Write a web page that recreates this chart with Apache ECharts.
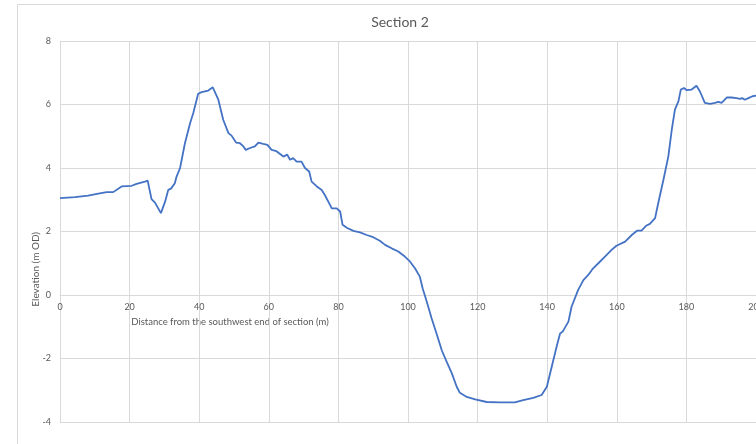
<!DOCTYPE html>
<html>
<head>
<meta charset="utf-8">
<title>Section 2</title>
<script src="https://cdn.jsdelivr.net/npm/echarts@6/dist/echarts.min.js"></script>
<style>
  html, body { margin: 0; padding: 0; overflow: hidden; background: #ffffff; }
  #chart { width: 800px; height: 460px; }
</style>
</head>
<body>
<div id="chart"></div>
<script>
// Ground profile along section 2: distance (m) and elevation (m OD)
const distance = [
  0, 4.3, 8.1, 11, 13.4, 15.3, 17.7, 20.6, 22, 24.4, 25.2, 26.3, 27.3, 29, 29.4,
  30.2, 31.1, 31.9, 33, 33.5, 34.5, 35.9, 37.4, 38.3, 39.7, 40.7, 42.6, 43.9,
  45.5, 46.9, 48.4, 49.3, 50.6, 51.7, 52.7, 53.4, 54.6, 55, 56, 57, 58.4, 59.6,
  60.8, 62.2, 64.2, 65.3, 66.1, 67, 68, 69.4, 70.4, 71.6, 72.3, 73.8, 75.2, 76.1,
  77.1, 78.1, 79.5, 80.5, 81.2, 82.4, 84.3, 86.2, 88.1, 90, 91.9, 93.4, 95.3,
  97.2, 99.1, 100.6, 102, 103.4, 104.2, 105.4, 106.8, 108.2, 109.7, 111.1, 112.6,
  114, 114.9, 116.9, 119.3, 122.6, 126.4, 130.7, 133.1, 136, 138.4, 139.9, 141.3,
  142.7, 143.7, 144.4, 146.1, 147, 148.9, 150.4, 151.8, 153.2, 154.7, 156.6,
  158.5, 159.9, 162.4, 164.3, 165.9, 167.1, 168.4, 169.5, 171, 171.9, 173.4,
  174.8, 175.8, 176.7, 177.7, 178.4, 179.3, 180.1, 181.5, 182.9, 183.9, 185.3,
  186.8, 188.2, 189.2, 190.1, 191.6, 193, 194.4, 195.4, 196, 196.8, 197.8, 199, 200
];
const elevation = [
  3.05, 3.08, 3.13, 3.19, 3.24, 3.24, 3.42, 3.44, 3.5, 3.57, 3.6, 3.02, 2.91, 2.58, 2.58,
  2.94, 3.31, 3.35, 3.52, 3.73, 4.0, 4.78, 5.42, 5.73, 6.34, 6.39, 6.44, 6.54,
  6.15, 5.52, 5.1, 5.02, 4.8, 4.78, 4.68, 4.57, 4.63, 4.6, 4.68, 4.8, 4.76, 4.73,
  4.57, 4.53, 4.36, 4.42, 4.26, 4.31, 4.2, 4.2, 4.0, 3.89, 3.57, 3.42, 3.31, 3.15,
  2.94, 2.73, 2.73, 2.63, 2.21, 2.12, 2.02, 1.97, 1.89, 1.82, 1.71, 1.58, 1.47,
  1.37, 1.21, 1.05, 0.84, 0.58, 0.21, -0.21, -0.74, -1.21, -1.74, -2.1, -2.47,
  -2.89, -3.08, -3.21, -3.29, -3.37, -3.38, -3.38, -3.31, -3.24, -3.15, -2.89, -2.26,
  -1.63, -1.21, -1.16, -0.84, -0.37, 0.16, 0.47, 0.63, 0.84, 1.0, 1.21,
  1.42, 1.55, 1.68, 1.89, 2.03, 2.03, 2.18, 2.24, 2.42, 2.89, 3.63,
  4.36, 5.21, 5.84, 6.1, 6.47, 6.52, 6.45, 6.47, 6.59, 6.41, 6.05,
  6.02, 6.05, 6.08, 6.05, 6.22, 6.22, 6.2, 6.18, 6.2, 6.15, 6.2, 6.26, 6.28
];

const titleText = 'Section 2';
const yAxisTitle = 'Elevation (m OD)';
const xAxisTitle = 'Distance from the southwest end of section (m)';

const points = distance.map((d, i) => [d, elevation[i]]);

const textColor = '#595959';
const gridColor = '#d9d9d9';
const font = 'Lato, "Open Sans", sans-serif';

// Plot box in pixels; the distance axis is lifted to the zero-elevation line
const gridTop = 41, gridBottom = 38, chartHeight = 460;
const yMin = -4, yMax = 8;
const plotHeight = chartHeight - gridTop - gridBottom;
const zeroOffset = -plotHeight * (0 - yMin) / (yMax - yMin);

const chart = echarts.init(document.getElementById('chart'), null, { renderer: 'canvas' });

chart.setOption({
  animation: false,
  backgroundColor: '#ffffff',
  title: {
    text: titleText,
    left: 395,
    top: 10,
    textAlign: 'center',
    textStyle: { color: textColor, fontSize: 14, fontWeight: 'normal', fontFamily: font }
  },
  grid: { left: 60, top: gridTop, right: 44, bottom: gridBottom, containLabel: false },
  graphic: [
    {
      type: 'rect',
      shape: { x: 17.5, y: 4.5, width: 1000, height: 1000 },
      style: { fill: 'none', stroke: gridColor, lineWidth: 1 },
      silent: true,
      z: -1
    },
    {
      type: 'text',
      left: 31,
      top: 232,
      rotation: Math.PI / 2,
      style: {
        text: yAxisTitle,
        fill: textColor,
        font: '10px ' + font,
        textAlign: 'center',
        textVerticalAlign: 'middle'
      },
      silent: true
    },
    {
      type: 'text',
      x: 230,
      y: 322,
      style: {
        text: xAxisTitle,
        fill: textColor,
        font: '9.5px ' + font,
        textAlign: 'center',
        textVerticalAlign: 'middle'
      },
      silent: true
    }
  ],
  xAxis: {
    type: 'value',
    min: 0,
    max: 200,
    interval: 20,
    position: 'bottom',
    offset: zeroOffset,
    axisLine: { show: true, onZero: false, lineStyle: { color: gridColor, width: 1 } },
    axisTick: { show: false },
    axisLabel: { color: textColor, fontSize: 9, fontFamily: font, margin: 8 },
    splitLine: { show: true, lineStyle: { color: gridColor, width: 1 } }
  },
  yAxis: {
    type: 'value',
    min: yMin,
    max: yMax,
    interval: 2,
    axisLine: { show: false },
    axisTick: { show: false },
    axisLabel: { color: textColor, fontSize: 9, fontFamily: font, margin: 9 },
    splitLine: { show: true, lineStyle: { color: gridColor, width: 1 } }
  },
  series: [
    {
      type: 'line',
      data: points,
      showSymbol: false,
      smooth: false,
      lineStyle: { color: '#4472C4', width: 1.8 },
      itemStyle: { color: '#4472C4' }
    }
  ]
});
</script>
</body>
</html>
